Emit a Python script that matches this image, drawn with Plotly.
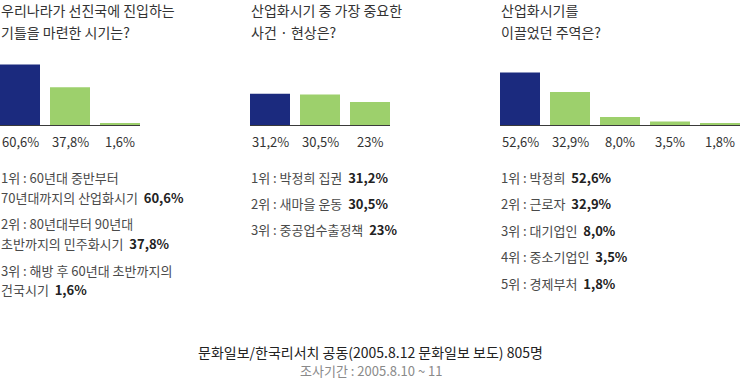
import plotly.graph_objects as go

W, H = 741, 381

# ---- data ----
titles = [
    ["우리나라가 선진국에 진입하는", "기틀을 마련한 시기는?"],
    ["산업화시기 중 가장 중요한", "사건 · 현상은?"],
    ["산업화시기를", "이끌었던 주역은?"],
]
values1 = [60.6, 37.8, 1.6]
values2 = [31.2, 30.5, 23.0]
values3 = [52.6, 32.9, 8.0, 3.5, 1.8]
labels1 = ["60,6%", "37,8%", "1,6%"]
labels2 = ["31,2%", "30,5%", "23%"]
labels3 = ["52,6%", "32,9%", "8,0%", "3,5%", "1,8%"]

rank1 = [
    ("1위 : 60년대 중반부터", None),
    ("70년대까지의 산업화시기", "60,6%"),
    ("2위 : 80년대부터 90년대", None),
    ("초반까지의 민주화시기", "37,8%"),
    ("3위 : 해방 후 60년대 초반까지의", None),
    ("건국시기", "1,6%"),
]
rank2 = [
    ("1위 : 박정희 집권", "31,2%"),
    ("2위 : 새마을 운동", "30,5%"),
    ("3위 : 중공업수출정책", "23%"),
]
rank3 = [
    ("1위 : 박정희", "52,6%"),
    ("2위 : 근로자", "32,9%"),
    ("3위 : 대기업인", "8,0%"),
    ("4위 : 중소기업인", "3,5%"),
    ("5위 : 경제부처", "1,8%"),
]
footer1 = "문화일보/한국리서치 공동(2005.8.12 문화일보 보도) 805명"
footer2 = "조사기간 : 2005.8.10 ~ 11"

# ---- style ----
NAVY = "#1b2a7e"
GREEN = "#9dd06c"
FONT = "Noto Sans CJK KR"
DARK = "#333333"
GRAY = "#4a4a4a"


def px_x(px):
    return px / W


def px_y(py):
    return 1 - py / H


panels = [
    dict(values=values1, labels=labels1, left=0, rank=rank1,
         rank_y=[177, 197, 223, 243, 270, 289]),
    dict(values=values2, labels=labels2, left=250, rank=rank2,
         rank_y=[177, 203, 229]),
    dict(values=values3, labels=labels3, left=500, rank=rank3,
         rank_y=[177, 203, 230, 256, 283]),
]

BASE = 125  # baseline pixel
TOP = 45

fig = go.Figure()
annotations = []

for i, p in enumerate(panels):
    n = len(p["values"])
    ax = "" if i == 0 else str(i + 1)
    left = p["left"]
    right = left + 50 * n - 10
    colors = [NAVY] + [GREEN] * (n - 1)
    fig.add_trace(go.Bar(
        x=list(range(n)), y=p["values"], width=0.8,
        marker=dict(color=colors, line=dict(width=0)),
        xaxis="x" + ax, yaxis="y" + ax, hoverinfo="skip",
    ))
    fig.update_layout(**{
        "xaxis" + ax: dict(
            domain=[px_x(left), px_x(right)], range=[-0.4, n - 0.6],
            showline=True, linecolor="#3a3a3a", linewidth=1,
            showticklabels=False, showgrid=False, zeroline=False,
            ticks="", anchor="y" + ax, fixedrange=True,
        ),
        "yaxis" + ax: dict(
            domain=[px_y(BASE), px_y(TOP)], range=[0, BASE - TOP],
            visible=False, showgrid=False, zeroline=False,
            anchor="x" + ax, fixedrange=True,
        ),
    })
    # value labels
    for j, lab in enumerate(p["labels"]):
        annotations.append(dict(
            text=lab, xref="x" + ax, yref="paper", x=j, y=px_y(141),
            xanchor="center", yanchor="middle", showarrow=False,
            font=dict(family=FONT, size=13, color=DARK),
        ))
    # titles
    for k, line in enumerate(titles[i]):
        annotations.append(dict(
            text=line, xref="paper", yref="paper",
            x=px_x(left - 1), y=px_y(10 + 22 * k),
            xanchor="left", yanchor="middle", showarrow=False,
            font=dict(family=FONT, size=14, color=DARK),
        ))
    # rankings
    for (txt, pct), yy in zip(p["rank"], p["rank_y"]):
        s = txt
        if pct:
            s = txt + "  <b><span style='color:#222222'>" + pct + "</span></b>"
        annotations.append(dict(
            text=s, xref="paper", yref="paper",
            x=px_x(left - 1), y=px_y(yy),
            xanchor="left", yanchor="middle", showarrow=False,
            font=dict(family=FONT, size=13, color=GRAY),
        ))

annotations.append(dict(
    text=footer1, xref="paper", yref="paper", x=px_x(371), y=px_y(352),
    xanchor="center", yanchor="middle", showarrow=False,
    font=dict(family=FONT, size=14, color="#222222"),
))
annotations.append(dict(
    text=footer2, xref="paper", yref="paper", x=px_x(371), y=px_y(370),
    xanchor="center", yanchor="middle", showarrow=False,
    font=dict(family=FONT, size=13, color="#8a8a8a"),
))

fig.update_layout(
    width=W, height=H, autosize=False,
    margin=dict(l=0, r=0, t=0, b=0, pad=0),
    paper_bgcolor="white", plot_bgcolor="white",
    showlegend=False, barmode="group",
    annotations=annotations,
)

fig.write_html(
    "out.html",
    config={"displayModeBar": False},
    post_script="document.body.style.margin='0px';document.body.style.overflow='hidden';",
)
